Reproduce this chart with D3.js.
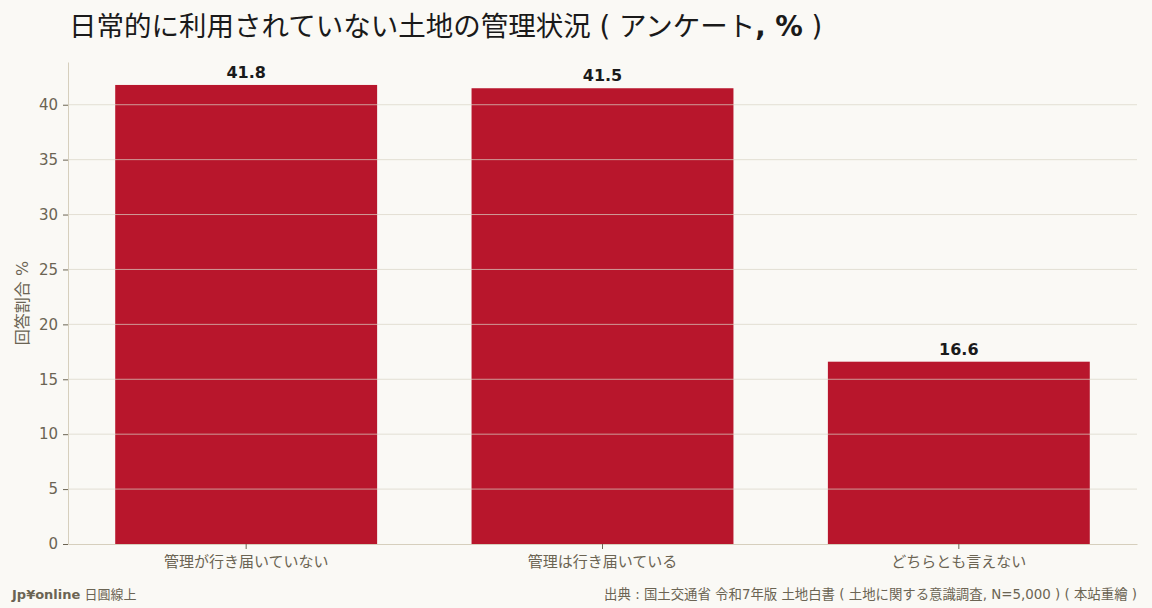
<!DOCTYPE html>
<html>
<head>
<meta charset="utf-8">
<script src="https://cdn.jsdelivr.net/npm/d3@7"></script>
<style>
  html, body { margin: 0; padding: 0; background: #faf9f5; }
  svg { display: block; font-family: "DejaVu Sans", "Noto Sans CJK JP", sans-serif; }
</style>
</head>
<body>
<svg id="chart" width="1152" height="608"></svg>
<script>
// data
const categories = ["管理が行き届いていない", "管理は行き届いている", "どちらとも言えない"];
const values = [41.8, 41.5, 16.6];
const yTicks = [0, 5, 10, 15, 20, 25, 30, 35, 40];

const margin = {top: 62, right: 15, bottom: 64, left: 68};
const width = 1152 - margin.left - margin.right;
const height = 608 - margin.top - margin.bottom;

const svg = d3.select("#chart");

svg.append("rect").attr("width", 1152).attr("height", 608).attr("fill", "#faf9f5");

const g = svg.append("g")
    .attr("transform", "translate(" + margin.left + "," + margin.top + ")");

let x = d3.scaleBand()
    .domain(categories)
    .range([0, width])
    .paddingInner(0.265)
    .paddingOuter(0.1325);

let y = d3.scaleLinear()
    .domain([0, d3.max(values) * 1.05])
    .range([height, 0]);

// bars
g.selectAll(".bar")
  .data(values)
  .enter().append("rect")
    .attr("class", "bar")
    .attr("x", (d, i) => x(categories[i]))
    .attr("width", x.bandwidth())
    .attr("y", d => y(d))
    .attr("height", d => height - y(d))
    .attr("fill", "#b8162c");

// grid lines (drawn over the bars, faint)
g.append("g")
  .selectAll("line")
  .data(yTicks.filter(t => t > 0))
  .enter().append("line")
    .attr("x1", 0).attr("x2", width)
    .attr("y1", d => y(d)).attr("y2", d => y(d))
    .attr("stroke", "#d9d4c6")
    .attr("stroke-opacity", 0.7)
    .attr("stroke-width", 1);

// value labels
g.selectAll(".val")
  .data(values)
  .enter().append("text")
    .attr("x", (d, i) => x(categories[i]) + x.bandwidth() / 2)
    .attr("y", d => y(d) - 7)
    .attr("text-anchor", "middle")
    .attr("font-size", 16)
    .attr("font-weight", "bold")
    .attr("fill", "#1a1a1a")
    .text(d => d.toFixed(1));

// x axis
let xAxis = g.append("g")
    .attr("transform", "translate(0," + height + ")")
    .call(d3.axisBottom(x).tickSize(5).tickSizeOuter(0));
xAxis.select(".domain").attr("stroke", "#d6cfbd");
xAxis.selectAll(".tick line").attr("stroke", "#6b6453");
xAxis.selectAll("text")
    .attr("font-size", 15)
    .attr("fill", "#6b6453")
    .attr("dy", "1.0em")
    .style("font-family", "'DejaVu Sans', 'Noto Sans CJK JP', sans-serif");

// y axis
let yAxis = g.append("g")
    .call(d3.axisLeft(y).tickValues(yTicks).tickSize(5).tickSizeOuter(0));
yAxis.select(".domain").attr("stroke", "#d6cfbd");
yAxis.selectAll(".tick line").attr("stroke", "#6b6453");
yAxis.selectAll("text")
    .attr("font-size", 15)
    .attr("x", -10)
    .attr("fill", "#6b6453")
    .style("font-family", "'DejaVu Sans', sans-serif");

// y axis title
svg.append("text")
    .attr("transform", "translate(28," + (margin.top + height / 2) + ") rotate(-90)")
    .attr("text-anchor", "middle")
    .attr("font-size", 16)
    .attr("fill", "#6b6453")
    .text("回答割合 %");

// title
let title = svg.append("text")
    .attr("x", 69)
    .attr("y", 36)
    .attr("font-size", 27.5)
    .attr("fill", "#1a1a1a");
title.append("tspan").text("日常的に利用されていない土地の管理状況 ( アンケート");
title.append("tspan").attr("font-weight", "bold").text(", %");
title.append("tspan").text(" )");

// footer
let foot = svg.append("text")
    .attr("x", 12)
    .attr("y", 599)
    .attr("font-size", 13)
    .attr("fill", "#6b6453");
foot.append("tspan").attr("font-weight", "bold").text("Jp¥online");
foot.append("tspan").text(" 日圓線上");

svg.append("text")
    .attr("x", 1137)
    .attr("y", 599)
    .attr("text-anchor", "end")
    .attr("font-size", 13.4)
    .attr("fill", "#6b6453")
    .text("出典 : 国土交通省 令和7年版 土地白書 ( 土地に関する意識調査, N=5,000 ) ( 本站重繪 )");
</script>
</body>
</html>
